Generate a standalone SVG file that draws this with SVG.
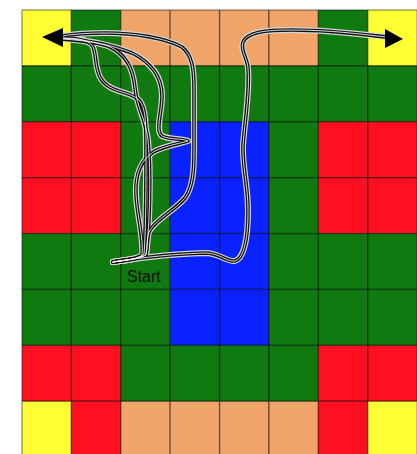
<svg xmlns="http://www.w3.org/2000/svg" xmlns:xlink="http://www.w3.org/1999/xlink" width="417" height="454" viewBox="0 0 417 454">
<style>
.y{fill:#FFFF33}.g{fill:#107A10}.t{fill:#F0A468}.r{fill:#FF1020}.b{fill:#0A22FF}
.cells rect{stroke:#000;stroke-opacity:0.45;stroke-width:1.3}
.halo{fill:none;stroke:#d8d8d8;stroke-width:6;stroke-linecap:round;stroke-linejoin:round}
.ink{fill:none;stroke:#111;stroke-width:3.6;stroke-linecap:round;stroke-linejoin:round}
.core{fill:none;stroke:#f4f4f4;stroke-width:0.9;stroke-linecap:round;stroke-linejoin:round}
.lbl{font-family:"Liberation Sans",Arial,sans-serif;font-size:16px;fill:#111}
</style>
<defs>
<path id="pR" d="M113,262 C130,259 170,254 205,253 C220,253 226,262 235,261 C245,258 248,235 248,210 C248,185 242,165 243,145 C245,120 250,90 248,68 C247,57 240,50 243,42 C248,32 265,30 292,30 C330,30 360,34 386,37"/>
<path id="pA" d="M113,262 C125,260 140,259 146,255 C148,245 146,238 150,230 C158,218 175,210 185,198 C193,187 194,170 194,150 L194,90 C194,68 192,55 182,47 C165,38 135,33 105,33 C88,33 74,34 62,36"/>
<path id="pB" d="M113,262 C125,260 138,259 142,255 C144,240 137,215 136,195 C135,175 140,160 155,151 C168,145 182,143 188,141 C182,138 170,140 162,136 C155,131 162,112 162,96 C162,76 150,62 132,53 C112,45 88,40 62,38"/>
<path id="pD" d="M113,262 C128,260 142,259 146,254 C150,225 151,170 148,140 C146,120 137,108 135,88 C133,68 126,54 108,46 C92,41 76,40 62,39"/>
<path id="pC" d="M113,262 C128,260 140,259 144,254 C146,230 146,180 146,150 C146,125 146,108 139,100 C130,91 110,93 101,79 C94,68 97,52 92,45 C86,39 75,38 62,38"/>
</defs>
<rect width="417" height="454" fill="#fff"/>
<g id="grid" class="cells">
<rect class="y" x="22" y="10" width="49.4" height="55.9"/>
<rect class="g" x="71.4" y="10" width="49.4" height="55.9"/>
<rect class="t" x="120.8" y="10" width="49.4" height="55.9"/>
<rect class="t" x="170.2" y="10" width="49.4" height="55.9"/>
<rect class="t" x="219.6" y="10" width="49.4" height="55.9"/>
<rect class="t" x="269" y="10" width="49.4" height="55.9"/>
<rect class="g" x="318.4" y="10" width="49.4" height="55.9"/>
<rect class="y" x="367.8" y="10" width="49.4" height="55.9"/>

<rect class="g" x="22" y="65.9" width="49.4" height="55.9"/>
<rect class="g" x="71.4" y="65.9" width="49.4" height="55.9"/>
<rect class="g" x="120.8" y="65.9" width="49.4" height="55.9"/>
<rect class="g" x="170.2" y="65.9" width="49.4" height="55.9"/>
<rect class="g" x="219.6" y="65.9" width="49.4" height="55.9"/>
<rect class="g" x="269" y="65.9" width="49.4" height="55.9"/>
<rect class="g" x="318.4" y="65.9" width="49.4" height="55.9"/>
<rect class="g" x="367.8" y="65.9" width="49.4" height="55.9"/>

<rect class="r" x="22" y="121.8" width="49.4" height="55.9"/>
<rect class="r" x="71.4" y="121.8" width="49.4" height="55.9"/>
<rect class="g" x="120.8" y="121.8" width="49.4" height="55.9"/>
<rect class="b" x="170.2" y="121.8" width="49.4" height="55.9"/>
<rect class="b" x="219.6" y="121.8" width="49.4" height="55.9"/>
<rect class="g" x="269" y="121.8" width="49.4" height="55.9"/>
<rect class="r" x="318.4" y="121.8" width="49.4" height="55.9"/>
<rect class="r" x="367.8" y="121.8" width="49.4" height="55.9"/>

<rect class="r" x="22" y="177.7" width="49.4" height="55.9"/>
<rect class="r" x="71.4" y="177.7" width="49.4" height="55.9"/>
<rect class="g" x="120.8" y="177.7" width="49.4" height="55.9"/>
<rect class="b" x="170.2" y="177.7" width="49.4" height="55.9"/>
<rect class="b" x="219.6" y="177.7" width="49.4" height="55.9"/>
<rect class="g" x="269" y="177.7" width="49.4" height="55.9"/>
<rect class="r" x="318.4" y="177.7" width="49.4" height="55.9"/>
<rect class="r" x="367.8" y="177.7" width="49.4" height="55.9"/>

<rect class="g" x="22" y="233.6" width="49.4" height="55.9"/>
<rect class="g" x="71.4" y="233.6" width="49.4" height="55.9"/>
<rect class="g" x="120.8" y="233.6" width="49.4" height="55.9"/>
<rect class="b" x="170.2" y="233.6" width="49.4" height="55.9"/>
<rect class="b" x="219.6" y="233.6" width="49.4" height="55.9"/>
<rect class="g" x="269" y="233.6" width="49.4" height="55.9"/>
<rect class="g" x="318.4" y="233.6" width="49.4" height="55.9"/>
<rect class="g" x="367.8" y="233.6" width="49.4" height="55.9"/>

<rect class="g" x="22" y="289.5" width="49.4" height="55.9"/>
<rect class="g" x="71.4" y="289.5" width="49.4" height="55.9"/>
<rect class="g" x="120.8" y="289.5" width="49.4" height="55.9"/>
<rect class="b" x="170.2" y="289.5" width="49.4" height="55.9"/>
<rect class="b" x="219.6" y="289.5" width="49.4" height="55.9"/>
<rect class="g" x="269" y="289.5" width="49.4" height="55.9"/>
<rect class="g" x="318.4" y="289.5" width="49.4" height="55.9"/>
<rect class="g" x="367.8" y="289.5" width="49.4" height="55.9"/>

<rect class="r" x="22" y="345.4" width="49.4" height="55.9"/>
<rect class="r" x="71.4" y="345.4" width="49.4" height="55.9"/>
<rect class="g" x="120.8" y="345.4" width="49.4" height="55.9"/>
<rect class="g" x="170.2" y="345.4" width="49.4" height="55.9"/>
<rect class="g" x="219.6" y="345.4" width="49.4" height="55.9"/>
<rect class="g" x="269" y="345.4" width="49.4" height="55.9"/>
<rect class="r" x="318.4" y="345.4" width="49.4" height="55.9"/>
<rect class="r" x="367.8" y="345.4" width="49.4" height="55.9"/>

<rect class="y" x="22" y="401.3" width="49.4" height="55.9"/>
<rect class="r" x="71.4" y="401.3" width="49.4" height="55.9"/>
<rect class="t" x="120.8" y="401.3" width="49.4" height="55.9"/>
<rect class="t" x="170.2" y="401.3" width="49.4" height="55.9"/>
<rect class="t" x="219.6" y="401.3" width="49.4" height="55.9"/>
<rect class="t" x="269" y="401.3" width="49.4" height="55.9"/>
<rect class="r" x="318.4" y="401.3" width="49.4" height="55.9"/>
<rect class="y" x="367.8" y="401.3" width="49.4" height="55.9"/>
</g>
<line x1="22" y1="9.4" x2="417" y2="9.4" stroke="#bbb" stroke-width="0.8"/>
<line x1="21.4" y1="10" x2="21.4" y2="454" stroke="#bbb" stroke-width="0.8"/>
<g id="connectors">
<use xlink:href="#pR" class="halo"/><use xlink:href="#pA" class="halo"/><use xlink:href="#pB" class="halo"/><use xlink:href="#pD" class="halo"/><use xlink:href="#pC" class="halo"/>
<use xlink:href="#pR" class="ink"/><use xlink:href="#pA" class="ink"/><use xlink:href="#pB" class="ink"/><use xlink:href="#pD" class="ink"/><use xlink:href="#pC" class="ink"/>
<use xlink:href="#pR" class="core"/><use xlink:href="#pA" class="core"/><use xlink:href="#pB" class="core"/><use xlink:href="#pD" class="core"/><use xlink:href="#pC" class="core"/>
<polygon points="42,37 63,28 63,47" fill="#000"/>
<polygon points="403,39 385,29 385,48" fill="#000"/>
</g>
<g id="start">
<text class="lbl" x="127" y="282">Start</text>
</g>
</svg>
